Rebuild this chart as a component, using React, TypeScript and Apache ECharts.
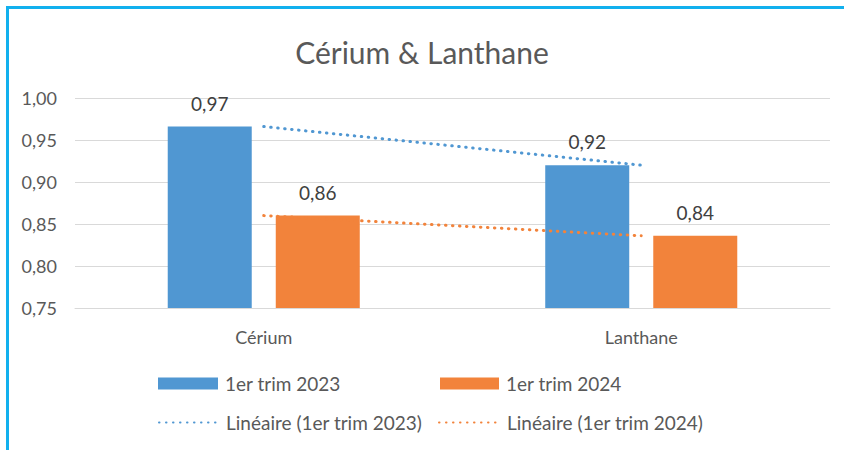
import React, { useEffect, useRef } from "react";
import * as echarts from "echarts";

const categories = ["Cérium", "Lanthane"];
const series2023 = [0.966, 0.92];
const series2024 = [0.86, 0.836];
const yTicks = { min: 0.75, max: 1.0, interval: 0.05 };
const seriesNames = ["1er trim 2023", "1er trim 2024", "Linéaire (1er trim 2023)", "Linéaire (1er trim 2024)"];

const BLUE = "#5097D2";
const ORANGE = "#F2833B";
const FONT = "Lato";
const fmt = (v: number) => v.toFixed(2).replace(".", ",");

// least-squares linear trend at category positions
function trend(vals: number[]) {
  const n = vals.length;
  const xs = vals.map((_, i) => i + 1);
  const mx = xs.reduce((a, b) => a + b, 0) / n;
  const my = vals.reduce((a, b) => a + b, 0) / n;
  let num = 0, den = 0;
  xs.forEach((x, i) => { num += (x - mx) * (vals[i] - my); den += (x - mx) * (x - mx); });
  const b = den ? num / den : 0;
  const a = my - b * mx;
  return xs.map((x) => a + b * x);
}

export default function App() {
  const ref = useRef<HTMLDivElement>(null);
  useEffect(() => {
    if (!ref.current) return;
    const chart = echarts.init(ref.current, null, { renderer: "svg" });
    const legendText = { color: "#595959", fontSize: 19, fontFamily: FONT, padding: [0, 0, 0, 2] };
    const lineLegendItemStyle = { opacity: 0, color: "transparent", borderWidth: 0 };
    chart.setOption({
      animation: false,
      backgroundColor: "#ffffff",
      textStyle: { fontFamily: FONT },
      title: {
        text: "Cérium & Lanthane",
        left: "center",
        top: 32,
        textStyle: { color: "#595959", fontSize: 30, fontWeight: "normal", fontFamily: FONT },
      },
      grid: { left: 75, right: 14, top: 98, bottom: 142 },
      xAxis: {
        type: "category",
        data: categories,
        axisLine: { lineStyle: { color: "#D9D9D9", width: 1 } },
        axisTick: { show: false },
        axisLabel: { color: "#595959", fontSize: 18, fontFamily: FONT, margin: 20 },
      },
      yAxis: {
        type: "value",
        min: yTicks.min,
        max: yTicks.max,
        interval: yTicks.interval,
        axisLine: { show: false },
        axisTick: { show: false },
        splitLine: { lineStyle: { color: "#D9D9D9", width: 1 } },
        axisLabel: { color: "#595959", fontSize: 18, fontFamily: FONT, margin: 18, formatter: (v: number) => fmt(v) },
      },
      legend: [
        { data: [{ name: seriesNames[0], icon: "rect" }], left: 158, top: 374, padding: 0, itemWidth: 60, itemHeight: 12, textStyle: legendText },
        { data: [{ name: seriesNames[1], icon: "rect" }], left: 440, top: 374, padding: 0, itemWidth: 59, itemHeight: 12, textStyle: legendText },
        { data: [seriesNames[2]], left: 158, top: 413, padding: 0, itemWidth: 60, itemHeight: 12, itemStyle: lineLegendItemStyle, textStyle: legendText },
        { data: [seriesNames[3]], left: 438, top: 413, padding: 0, itemWidth: 61, itemHeight: 12, itemStyle: lineLegendItemStyle, textStyle: legendText },
      ],
      series: [
        {
          name: seriesNames[0],
          type: "bar",
          data: series2023,
          barWidth: 84,
          barGap: "28.6%",
          itemStyle: { color: BLUE },
          label: { show: true, position: "top", distance: 14, color: "#404040", fontSize: 19, fontFamily: FONT, formatter: (p: any) => fmt(p.value) },
        },
        {
          name: seriesNames[1],
          type: "bar",
          data: series2024,
          barWidth: 84,
          itemStyle: { color: ORANGE },
          label: { show: true, position: "top", distance: 14, color: "#404040", fontSize: 19, fontFamily: FONT, formatter: (p: any) => fmt(p.value) },
        },
        {
          name: seriesNames[2],
          type: "line",
          data: trend(series2023),
          symbol: "none",
          z: 5,
          lineStyle: { color: BLUE, width: 3, type: [0.5, 6.5], cap: "round" },
          itemStyle: { color: BLUE },
        },
        {
          name: seriesNames[3],
          type: "line",
          data: trend(series2024),
          symbol: "none",
          z: 5,
          lineStyle: { color: ORANGE, width: 3, type: [0.5, 6.5], cap: "round" },
          itemStyle: { color: ORANGE },
        },
      ],
      graphic: [
        { type: "rect", shape: { x: 6, y: 6, width: 838, height: 3 }, style: { fill: "#12B0EE" }, silent: true },
        { type: "rect", shape: { x: 6, y: 6, width: 3, height: 444 }, style: { fill: "#12B0EE" }, silent: true },
      ],
    });
    return () => chart.dispose();
  }, []);
  return <div ref={ref} style={{ position: "absolute", left: 0, top: 0, width: 844, height: 450 }} />;
}
